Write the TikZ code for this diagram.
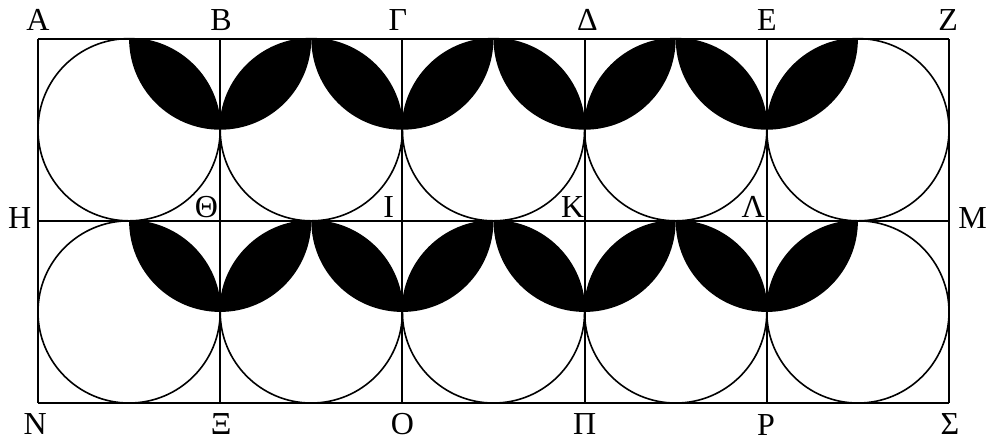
\documentclass[tikz,border=0pt]{standalone}
\usepackage{fontspec}
\setmainfont{Liberation Serif}
\usepackage{tikz}

\begin{document}
\begin{tikzpicture}[
      gridline/.style={line width=0.6pt},
      ring/.style={line width=0.5pt},
      lbl/.style={font=\fontsize{10}{12}\selectfont,inner sep=0pt,anchor=base}]

      \useasboundingbox (-0.417,-0.395) rectangle (10.472,4.424);

      % Lunes: disk of each inner top corner cut by the two neighbour circles
      \foreach \k in {1,...,4}{
        \foreach \r in {0,1}{
          \begin{scope}
            \clip ({2*\k},{2*\r+2}) circle (1);
            \fill ({2*\k-1},{2*\r+1}) circle (1);
            \fill ({2*\k+1},{2*\r+1}) circle (1);
          \end{scope}
        }
      }

      % Inscribed circles
      \foreach \c in {0,...,4}{
        \foreach \r in {0,1}{
          \draw[ring] ({2*\c+1},{2*\r+1}) circle (1);
        }
      }

      % Squares
      \draw[gridline,step=2] (0,0) grid (10,4);

      % Top row
      \node[lbl] (nA) at (0.00,4.09) {Α};
      \node[lbl] (nB) at (2.01,4.09) {Β};
      \node[lbl] (nG) at (3.95,4.09) {Γ};
      \node[lbl] (nD) at (6.03,4.09) {Δ};
      \node[lbl] (nE) at (8.00,4.09) {Ε};
      \node[lbl] (nZ) at (9.99,4.09) {Ζ};

      % Middle row
      \node[lbl,anchor=base east] (nH) at (-0.066,1.92) {Η};
      \node[lbl] (nTh) at (1.85,2.04) {Θ};
      \node[lbl] (nI)  at (3.85,2.04) {Ι};
      \node[lbl] (nK)  at (5.87,2.04) {Κ};
      \node[lbl] (nL)  at (7.85,2.04) {Λ};
      \node[lbl] (nM)  at (10.26,1.92) {Μ};

      % Bottom row
      \node[lbl] (nN) at (-0.03,-0.35) {Ν};
      \node[lbl] (nX) at (2.01,-0.35) {Ξ};
      \node[lbl] (nO) at (4.00,-0.35) {Ο};
      \node[lbl] (nP) at (6.00,-0.35) {Π};
      \node[lbl] (nR) at (7.99,-0.36) {Ρ};
      \node[lbl] (nS) at (10.01,-0.35) {Σ};
    \end{tikzpicture}
\end{document}
